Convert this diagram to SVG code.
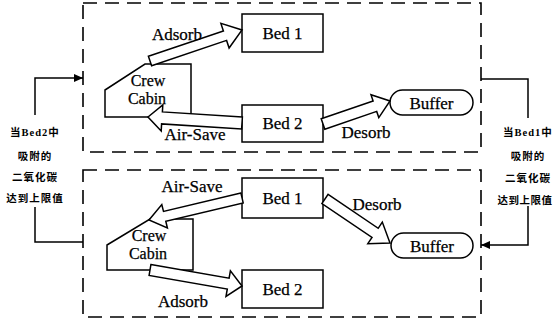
<svg xmlns="http://www.w3.org/2000/svg" width="553" height="324" viewBox="0 0 553 324">
<style>
.bg{fill:#fff}
.frame{fill:none;stroke:#000;stroke-width:1.6;stroke-dasharray:14 8}
.box{fill:#fff;stroke:#000;stroke-width:1.5}
.blk{fill:#fff;stroke:#000;stroke-width:1.5;stroke-linejoin:miter}
.t{font-family:"Liberation Serif","Times New Roman",serif;font-size:17px;fill:#000;stroke:#000;stroke-width:0.25;text-anchor:middle}
.c{font-size:16px}
.cn{font-family:"Liberation Serif","Noto Sans CJK SC",serif;font-size:10.5px;font-weight:bold;fill:#000;text-anchor:middle;letter-spacing:1px}
.ln{fill:none;stroke:#000;stroke-width:1.5}
</style>
<defs>
<marker id="ah" markerWidth="10" markerHeight="8" refX="9" refY="4" orient="auto" markerUnits="userSpaceOnUse">
<path d="M0,0 L9,4 L0,8 Z" fill="#000"/>
</marker>
</defs>
<rect class="bg" x="0" y="0" width="553" height="324"/>

<g id="frame-top"><rect class="frame" x="83" y="3" width="398" height="149"/></g>
<g id="frame-bottom"><rect class="frame" x="83" y="170" width="398" height="147"/></g>

<!-- top section nodes -->
<g id="cabin-top">
<polygon class="box" points="105,90 145,64 191,64 191,117 105,117"/>
<text class="t c" x="148" y="86">Crew</text>
<text class="t c" x="147" y="104">Cabin</text>
</g>
<g id="bed1-top">
<rect class="box" x="242" y="14" width="81" height="38"/>
<text class="t" x="282.5" y="39">Bed 1</text>
</g>
<g id="bed2-top">
<rect class="box" x="242" y="105" width="81" height="37"/>
<text class="t" x="282.5" y="129">Bed 2</text>
</g>
<g id="buffer-top">
<rect class="box" x="390" y="90" width="83" height="25" rx="12.5" ry="12.5"/>
<text class="t" x="431.5" y="109">Buffer</text>
</g>

<!-- bottom section nodes -->
<g id="cabin-bottom">
<polygon class="box" points="107,245 150,219 193,219 193,270 107,270"/>
<text class="t c" x="149" y="241">Crew</text>
<text class="t c" x="148" y="259">Cabin</text>
</g>
<g id="bed1-bottom">
<rect class="box" x="242" y="178" width="81" height="40"/>
<text class="t" x="282.5" y="204">Bed 1</text>
</g>
<g id="bed2-bottom">
<rect class="box" x="242" y="270" width="81" height="38"/>
<text class="t" x="282.5" y="295">Bed 2</text>
</g>
<g id="buffer-bottom">
<rect class="box" x="391" y="233" width="82" height="25" rx="12.5" ry="12.5"/>
<text class="t" x="432" y="252">Buffer</text>
</g>

<!-- connectors -->
<g id="connectors">
<polygon class="blk" points="148.4,56.3 223.4,31.0 220.9,23.4 242,30 229.1,48.0 226.6,40.4 151.6,65.7"/>
<polygon class="blk" points="242.4,117.0 162.4,111.9 162.8,104.9 148,117 161.2,130.9 161.6,123.9 241.6,129.0"/>
<polygon class="blk" points="321.2,118.8 373.1,101.0 371.0,94.8 390,101 378.8,117.6 376.7,111.4 324.8,129.2"/>
<polygon class="blk" points="240.9,193.1 163.5,211.4 161.8,204.6 149,220 167.4,228.0 165.8,221.2 243.2,202.9"/>
<polygon class="blk" points="150.9,264.6 229.1,278.2 230.4,270.8 242,286 226.0,296.4 227.3,289.0 149.1,275.4"/>
<polygon class="blk" points="328.1,194.4 378.2,228.3 382.3,222.1 390,243 367.8,243.7 372.0,237.5 321.9,203.6"/>
<polyline class="ln" points="35,115 35,78 83,78" marker-end="url(#ah)"/>
<polyline class="ln" points="35,207 35,242 83,242"/>
<polyline class="ln" points="481,79 528,79 528,118"/>
<polyline class="ln" points="528,206 528,245 481,245" marker-end="url(#ah)"/>
</g>

<!-- arrow labels -->
<text class="t" x="177" y="40">Adsorb</text>
<text class="t" x="195" y="140">Air-Save</text>
<text class="t" x="366" y="138">Desorb</text>
<text class="t" x="192" y="192">Air-Save</text>
<text class="t" x="183" y="307">Adsorb</text>
<text class="t" x="377" y="210">Desorb</text>

<!-- side notes -->
<g id="note-left">
<text class="cn" x="35" y="136">当Bed2中</text>
<text class="cn" x="35" y="160">吸附的</text>
<text class="cn" x="35" y="181">二氧化碳</text>
<text class="cn" x="35" y="202">达到上限值</text>
</g>
<g id="note-right">
<text class="cn" x="528" y="136">当Bed1中</text>
<text class="cn" x="528" y="160">吸附的</text>
<text class="cn" x="528" y="182">二氧化碳</text>
<text class="cn" x="525" y="204" style="letter-spacing:0.5px">达到上限值</text>
</g>
</svg>
